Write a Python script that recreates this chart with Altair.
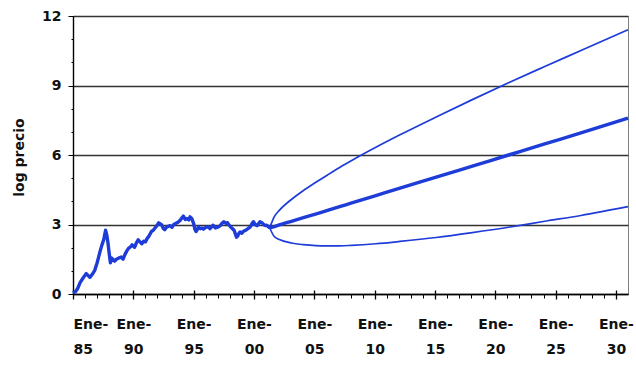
import altair as alt
import pandas as pd

# Historical log price (monthly, sampled)
hist_year = [
    1985.0, 1985.2, 1985.4, 1985.6, 1985.85, 1986.1, 1986.4, 1986.6, 1986.8, 1987.0,
    1987.1, 1987.25, 1987.4, 1987.55, 1987.7, 1987.8, 1987.9, 1988.0, 1988.1, 1988.2,
    1988.3, 1988.45, 1988.6, 1988.8, 1989.0, 1989.15, 1989.3, 1989.45, 1989.6, 1989.8,
    1989.9, 1990.1, 1990.25, 1990.4, 1990.55, 1990.7, 1990.85, 1991.0, 1991.15, 1991.3,
    1991.5, 1991.65, 1991.8, 1991.95, 1992.1, 1992.25, 1992.35, 1992.5, 1992.6, 1992.75,
    1992.9, 1993.05, 1993.2, 1993.35, 1993.5, 1993.7, 1993.9, 1994.05, 1994.15, 1994.3,
    1994.45, 1994.6, 1994.7, 1994.85, 1995.0, 1995.1, 1995.2, 1995.3, 1995.4, 1995.55,
    1995.7, 1995.8, 1996.0, 1996.2, 1996.35, 1996.5, 1996.6, 1996.8, 1997.05, 1997.2,
    1997.35, 1997.5, 1997.65, 1997.8, 1997.9, 1998.05, 1998.2, 1998.35, 1998.45, 1998.55,
    1998.65, 1998.75, 1998.85, 1999.0, 1999.15, 1999.3, 1999.5, 1999.7, 1999.85, 1999.95,
    2000.1, 2000.25, 2000.4, 2000.5, 2000.65, 2000.8, 2000.95, 2001.05, 2001.2, 2001.3,
]
hist_value = [
    0.05, 0.10, 0.25, 0.50, 0.70, 0.88, 0.72, 0.85, 1.02, 1.35,
    1.55, 1.85, 2.12, 2.35, 2.75, 2.55, 2.20, 1.75, 1.35, 1.55,
    1.50, 1.42, 1.50, 1.55, 1.60, 1.50, 1.70, 1.85, 1.97, 2.05,
    2.12, 2.02, 2.20, 2.34, 2.25, 2.17, 2.28, 2.25, 2.40, 2.50,
    2.70, 2.75, 2.85, 2.95, 3.07, 3.02, 2.98, 2.82, 2.78, 2.88,
    2.92, 2.95, 2.88, 3.00, 3.04, 3.10, 3.19, 3.30, 3.36, 3.22,
    3.26, 3.20, 3.33, 3.25, 3.04, 2.80, 2.70, 2.78, 2.90, 2.82,
    2.85, 2.80, 2.88, 2.90, 2.82, 2.90, 2.97, 2.85, 2.90, 2.95,
    3.05, 3.12, 3.05, 3.08, 3.00, 2.90, 2.83, 2.75, 2.60, 2.45,
    2.50, 2.62, 2.68, 2.62, 2.72, 2.75, 2.82, 2.90, 3.05, 3.12,
    3.00, 2.95, 3.05, 3.12, 3.08, 3.00, 2.95, 2.97, 2.90, 2.85,
]

# Projection: central path and upper / lower bands
fc_year = [2001.3, 2001.7, 2002.1, 2003.1, 2004.1, 2005.1, 2006.1, 2007.1, 2008.1,
           2010.1, 2012.1, 2015.1, 2018.1, 2021.1, 2024.1, 2027.1, 2031.0]
fc_mid = [2.85, 2.91, 2.98, 3.14, 3.30, 3.45, 3.61, 3.77, 3.93,
          4.25, 4.57, 5.04, 5.52, 6.00, 6.48, 6.95, 7.59]
fc_upper = [2.85, 3.35, 3.61, 4.08, 4.47, 4.81, 5.14, 5.46, 5.76,
            6.33, 6.87, 7.64, 8.39, 9.12, 9.82, 10.51, 11.41]
fc_lower = [2.85, 2.47, 2.35, 2.20, 2.13, 2.09, 2.08, 2.08, 2.10,
            2.17, 2.27, 2.44, 2.65, 2.88, 3.14, 3.39, 3.77]

major_years = [1985, 1990, 1995, 2000, 2005, 2010, 2015, 2020, 2025, 2030]
minor_years = list(range(1985, 2031))
y_ticks = [0, 3, 6, 9, 12]
y_minor = list(range(0, 13))

BLUE = "#1e3cd8"
FONT = "DejaVu Sans"

hist_df = pd.DataFrame({"year": hist_year, "value": hist_value})
mid_df = pd.DataFrame({"year": fc_year, "value": fc_mid})
band_df = pd.concat([
    pd.DataFrame({"year": fc_year, "value": fc_upper, "band": "superior"}),
    pd.DataFrame({"year": fc_year, "value": fc_lower, "band": "inferior"}),
])

x_scale = alt.Scale(domain=[1985, 2031], nice=False, zero=False)
y_scale = alt.Scale(domain=[0, 12], nice=False)

# Bottom axis carrying the two-line "Ene-" / year labels
x_labels = alt.Axis(
    orient="bottom",
    values=major_years,
    labelExpr="['Ene-', slice(format(datum.value, 'd'), 2)]",
    ticks=False,
    grid=False,
    labelPadding=23,
    labelLineHeight=25,
    labelFont=FONT,
    labelFontSize=14,
    labelFontWeight="bold",
    labelColor="#111111",
    domainColor="#000000",
    domainWidth=1.4,
    title=None,
)
# Yearly minor ticks below the axis line
x_minor = alt.Axis(
    orient="bottom",
    values=minor_years, labels=False, domain=False, grid=False,
    tickSize=4, tickColor="#000000", tickWidth=1, title=None,
)
# Major ticks crossing the axis line
x_major = alt.Axis(
    orient="bottom",
    values=major_years, labels=False, domain=False, grid=False,
    tickSize=9, offset=-4, tickColor="#000000", tickWidth=1.3, title=None,
)

y_major = alt.Axis(
    orient="left",
    values=y_ticks,
    grid=True,
    gridColor="#333333",
    gridWidth=1.3,
    tickSize=5,
    tickColor="#000000",
    labelPadding=7,
    labelFont=FONT,
    labelFontSize=14,
    labelFontWeight="bold",
    labelColor="#111111",
    domainColor="#000000",
    domainWidth=1.4,
    title="log precio",
    titleFont=FONT,
    titleFontSize=14,
    titleFontWeight="bold",
    titleColor="#111111",
    titleX=-54,
    titleY=141,
    titleBaseline="middle",
    titleAngle=270,
)
y_minor_axis = alt.Axis(
    orient="left",
    values=y_minor, labels=False, domain=False, grid=False,
    tickSize=2, tickColor="#000000", title=None,
)

hist = alt.Chart(hist_df).mark_line(color=BLUE, strokeWidth=3.4, strokeJoin="round").encode(
    x=alt.X("year:Q", scale=x_scale, axis=x_labels),
    y=alt.Y("value:Q", scale=y_scale, axis=y_major),
)

mid = alt.Chart(mid_df).mark_line(color=BLUE, strokeWidth=3.4, interpolate="monotone").encode(
    x=alt.X("year:Q", scale=x_scale, axis=x_minor),
    y=alt.Y("value:Q", scale=y_scale, axis=y_minor_axis),
)

bands = alt.Chart(band_df).mark_line(color=BLUE, strokeWidth=1.7, interpolate="monotone").encode(
    x=alt.X("year:Q", scale=x_scale, axis=x_major),
    y=alt.Y("value:Q", scale=y_scale, axis=None),
    detail="band:N",
)

chart = (
    alt.layer(bands, mid, hist)
    .resolve_axis(x="independent", y="independent")
    .properties(
        width=555,
        height=278,
        autosize=alt.AutoSizeParams(type="none"),
        padding={"left": 73, "top": 16, "right": 8, "bottom": 76},
        background="#ffffff",
    )
    .configure_view(stroke="#808080", strokeWidth=1)
)

chart.save("out.html", embed_options={"renderer": "svg", "actions": False})
